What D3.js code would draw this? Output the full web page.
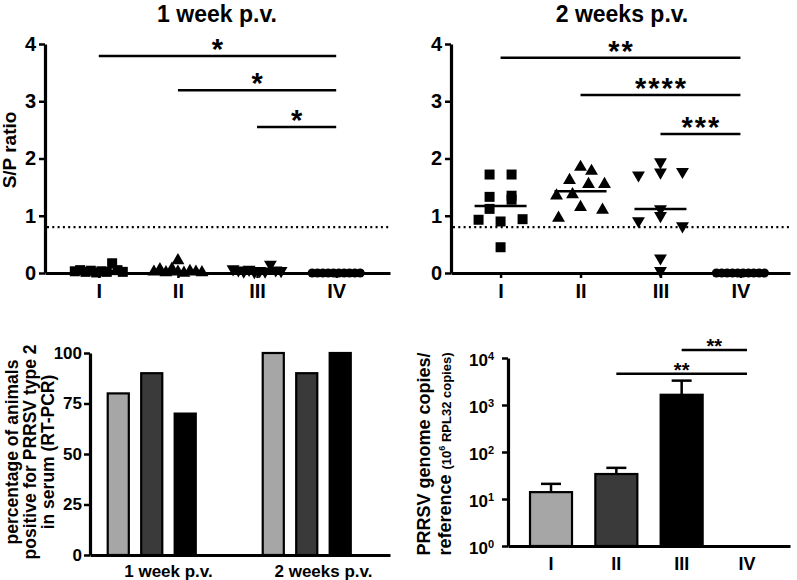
<!DOCTYPE html>
<html>
<head>
<meta charset="utf-8">
<script src="https://cdn.jsdelivr.net/npm/d3@7"></script>
<style>
  body { margin: 0; background: #fff; }
  svg text { font-family: "Liberation Sans", Arial, sans-serif; font-weight: bold; fill: #000; }
</style>
</head>
<body>
<div id="fig"></div>
<script>
// ---- data ----
var groups = ['I', 'II', 'III', 'IV'];
var spTicks = [0, 1, 2, 3, 4];
var cutoff = 0.8;

// S/P ratio, 1 week p.v.
var wk1I   = [0.03, 0.05, 0.02, 0.04, 0.01, 0.03, 0.02, 0.17, 0.05, 0.02];
var wk1II  = [0.02, 0.06, 0.01, 0.07, 0.02, 0.00, 0.03, 0.22, 0.02, 0.01];
var wk1III = [0.07, 0.05, 0.03, 0.06, 0.02, 0.04, 0.03, 0.15, 0.05, 0.04];
var wk1IV  = [0, 0, 0, 0, 0, 0, 0, 0, 0, 0];
var wk1Med = [0.03, 0.02, 0.04, 0];

// S/P ratio, 2 weeks p.v.
var wk2I   = [0.93, 0.90, 0.94, 1.72, 1.12, 1.28, 1.33, 1.35, 1.72, 0.45];
var wk2II  = [0.96, 1.15, 1.10, 1.35, 1.37, 1.55, 1.55, 1.62, 1.78, 1.85];
var wk2III = [0.91, 1.00, 0.82, 1.12, 1.71, 1.76, 1.77, 1.94, 0.26, 0.04];
var wk2IV  = [0, 0, 0, 0, 0, 0, 0, 0, 0, 0];
var wk2Med = [1.17, 1.43, 1.12, 0];

// significance brackets (from group -> IV)
var sig1From = ['I', 'II', 'III'];
var sig1Y    = [3.79, 3.19, 2.55];
var sig1Lab  = ['*', '*', '*'];
var sig2From = ['I', 'II', 'III'];
var sig2Y    = [3.76, 3.11, 2.43];
var sig2Lab  = ['**', '****', '***'];

// % positive by RT-PCR
var timepoints = ['1 week p.v.', '2 weeks p.v.'];
var pctI   = [80, 100];
var pctII  = [90, 90];
var pctIII = [70, 100];
var pctIV  = [0, 0];
var pctTicks = [0, 25, 50, 75, 100];

// genome copies
var copiesMean = [14, 34, 1650, 0];
var copiesUp   = [21, 46, 3300, 0];
var copyTicks  = [1, 10, 100, 1000, 10000];
var sig3From = ['II', 'III'];
var sig3Y    = [4600, 14800];
var sig3Lab  = ['**', '**'];

// ---- drawing ----
var W = 797, H = 580;
var svg = d3.select('#fig').append('svg').attr('width', W).attr('height', H);

var shapes = [d3.symbolSquare, d3.symbolTriangle, d3.symbolTriangle, d3.symbolCircle];
var sizes = [100, 72, 72, 66];
var barCols = ['#a6a6a6', '#3a3a3a', '#000000', '#ffffff'];

function styleAxis(g, w) {
  g.select('.domain').attr('stroke', '#000').attr('stroke-width', w || 3.2);
  g.selectAll('.tick line').attr('stroke', '#000').attr('stroke-width', 2.5);
  g.selectAll('.tick text').attr('fill', '#000');
}

// rows of near-equal values get spread sideways
function swarm(vals, thr, step, maxW) {
  var idx = d3.range(vals.length).sort(function(a, b) { return vals[a] - vals[b]; });
  var rows = [], cur = null;
  idx.forEach(function(i) {
    if (!cur || vals[i] - vals[cur[0]] > thr) { cur = [i]; rows.push(cur); }
    else cur.push(i);
  });
  var off = [];
  rows.forEach(function(r) {
    r.sort(function(a, b) { return a - b; });
    var n = r.length, s = n > 1 ? Math.min(step, maxW / (n - 1)) : 0;
    r.forEach(function(i, k) { off[i] = (k - (n - 1) / 2) * s; });
  });
  return off;
}

function scatterPanel(opt) {
  var x = d3.scalePoint().domain(groups).range([opt.x0, opt.x1]).padding(opt.pad);
  var y = d3.scaleLinear().domain([0, 4]).range([273, 44]);
  var g = svg.append('g');

  g.append('text').attr('x', opt.titleX).attr('y', 22)
    .attr('text-anchor', 'middle').style('font-size', '23px').text(opt.title);

  if (opt.ylab) {
    g.append('text').attr('transform', 'translate(16,' + 150 + ') rotate(-90)')
      .attr('text-anchor', 'middle').style('font-size', '19px').text(opt.ylab);
  }

  // cutoff
  g.append('line').attr('x1', opt.x0 + 2).attr('x2', opt.x1)
    .attr('y1', y(cutoff)).attr('y2', y(cutoff))
    .attr('stroke', '#000').attr('stroke-width', 2.2).attr('stroke-dasharray', '2,3.3');

  opt.series.forEach(function(vals, gi) {
    var off = swarm(vals, 0.2, 22, 48);
    g.selectAll(null).data(vals).enter().append('path')
      .attr('d', d3.symbol().type(shapes[gi]).size(sizes[gi]))
      .attr('transform', function(d, i) {
        return 'translate(' + (x(groups[gi]) + off[i]) + ',' + y(d) + ')' + (gi === 2 ? ' rotate(180)' : '');
      })
      .attr('fill', '#000');
    g.append('line')
      .attr('x1', x(groups[gi]) - 26).attr('x2', x(groups[gi]) + 26)
      .attr('y1', y(opt.med[gi])).attr('y2', y(opt.med[gi]))
      .attr('stroke', '#000').attr('stroke-width', 2.5);
  });

  var ya = g.append('g').attr('transform', 'translate(' + opt.x0 + ',0)')
    .call(d3.axisLeft(y).tickValues(spTicks).tickSize(6).tickSizeOuter(0).tickPadding(3).tickFormat(d3.format('d')));
  ya.selectAll('.tick text').style('font-size', '20px');
  styleAxis(ya);

  var xa = g.append('g').attr('transform', 'translate(0,' + y(0) + ')')
    .call(d3.axisBottom(x).tickSize(5).tickSizeOuter(0).tickPadding(6));
  xa.selectAll('.tick text').style('font-size', '20px');
  styleAxis(xa);

  opt.sigFrom.forEach(function(f, i) {
    var yy = y(opt.sigY[i]);
    g.append('line').attr('x1', x(f)).attr('x2', x('IV')).attr('y1', yy).attr('y2', yy)
      .attr('stroke', '#000').attr('stroke-width', 2.5);
    g.append('text').attr('x', (x(f) + x('IV')) / 2 + 1).attr('y', yy + 3)
      .attr('text-anchor', 'middle').style('font-size', '29px').style('letter-spacing', '2px')
      .text(opt.sigLab[i]);
  });
}

scatterPanel({
  x0: 45, x1: 390, pad: 0.68, title: '1 week p.v.', titleX: 217, ylab: 'S/P ratio',
  series: [wk1I, wk1II, wk1III, wk1IV], med: wk1Med,
  sigFrom: sig1From, sigY: sig1Y, sigLab: sig1Lab
});
scatterPanel({
  x0: 451, x1: 790, pad: 0.62, title: '2 weeks p.v.', titleX: 622, ylab: null,
  series: [wk2I, wk2II, wk2III, wk2IV], med: wk2Med,
  sigFrom: sig2From, sigY: sig2Y, sigLab: sig2Lab
});

// ---- % positive bars ----
(function() {
  var g = svg.append('g');
  var x0 = d3.scaleBand().domain(timepoints).range([90, 390])
    .paddingInner(0.216).paddingOuter(0.0757).align(0.755);
  var x1 = d3.scaleBand().domain(groups).range([0, x0.bandwidth()]).paddingInner(0.37).paddingOuter(0);
  var y = d3.scaleLinear().domain([0, 100]).range([555, 353]);
  var series = [pctI, pctII, pctIII, pctIV];

  timepoints.forEach(function(t, ti) {
    series.forEach(function(s, gi) {
      if (!s[ti]) return;
      g.append('rect')
        .attr('x', x0(t) + x1(groups[gi])).attr('width', x1.bandwidth())
        .attr('y', y(s[ti])).attr('height', y(0) - y(s[ti]))
        .attr('fill', barCols[gi]).attr('stroke', '#000').attr('stroke-width', 2.2);
    });
  });

  var ya = g.append('g').attr('transform', 'translate(90,0)')
    .call(d3.axisLeft(y).tickValues(pctTicks).tickSize(6).tickSizeOuter(0).tickPadding(2));
  ya.selectAll('.tick text').style('font-size', '17px');
  styleAxis(ya);
  var xa = g.append('g').attr('transform', 'translate(0,555)')
    .call(d3.axisBottom(x0).tickSize(0).tickPadding(10));
  xa.selectAll('.tick text').style('font-size', '17px');
  styleAxis(xa);

  var lab = ['percentage of animals', 'positive for PRRSV type 2', 'in serum (RT-PCR)'];
  var lx = [12, 30, 48];
  lab.forEach(function(l, i) {
    g.append('text').attr('transform', 'translate(' + lx[i] + ',452) rotate(-90)')
      .attr('text-anchor', 'middle').attr('dy', '0.35em').style('font-size', '17.5px').text(l);
  });
})();

// ---- genome copies (log) ----
(function() {
  var g = svg.append('g');
  var x = d3.scaleBand().domain(groups).range([508, 790]).paddingInner(0.357).paddingOuter(0.337);
  var y = d3.scaleLog().domain([1, 10000]).range([546, 358]);

  groups.forEach(function(k, gi) {
    var v = copiesMean[gi];
    if (!v) return;
    var cx = x(k) + x.bandwidth() / 2;
    g.append('line').attr('x1', cx).attr('x2', cx).attr('y1', y(v)).attr('y2', y(copiesUp[gi]))
      .attr('stroke', '#000').attr('stroke-width', 2.5);
    g.append('line').attr('x1', cx - 10).attr('x2', cx + 10).attr('y1', y(copiesUp[gi])).attr('y2', y(copiesUp[gi]))
      .attr('stroke', '#000').attr('stroke-width', 2.5);
    g.append('rect').attr('x', x(k)).attr('width', x.bandwidth())
      .attr('y', y(v)).attr('height', y(1) - y(v))
      .attr('fill', barCols[gi]).attr('stroke', '#000').attr('stroke-width', 2.2);
  });

  var ya = g.append('g').attr('transform', 'translate(508,0)')
    .call(d3.axisLeft(y).tickValues(copyTicks).tickSize(6).tickSizeOuter(0).tickPadding(8).tickFormat(''));
  styleAxis(ya);
  ya.selectAll('.tick').each(function(d) {
    var t = d3.select(this).select('text').style('font-size', '17px').attr('dy', '0.45em');
    t.append('tspan').text('10');
    t.append('tspan').attr('dy', '-0.6em').style('font-size', '11px').text(Math.round(Math.log10(d)));
  });

  var xa = g.append('g').attr('transform', 'translate(0,546)')
    .call(d3.axisBottom(x).tickSize(0).tickPadding(11));
  xa.selectAll('.tick text').style('font-size', '18px');
  styleAxis(xa);

  sig3From.forEach(function(f, i) {
    var yy = y(sig3Y[i]);
    var xa1 = x(f) + x.bandwidth() / 2, xb = x('IV') + x.bandwidth() / 2;
    g.append('line').attr('x1', xa1).attr('x2', xb).attr('y1', yy).attr('y2', yy)
      .attr('stroke', '#000').attr('stroke-width', 2.5);
    g.append('text').attr('x', (xa1 + xb) / 2).attr('y', yy + 3)
      .attr('text-anchor', 'middle').style('font-size', '20px').text(sig3Lab[i]);
  });

  g.append('text').attr('transform', 'translate(424,454) rotate(-90)')
    .attr('text-anchor', 'middle').attr('dy', '0.35em').style('font-size', '18px').text('PRRSV genome copies/');
  var t2 = g.append('text').attr('transform', 'translate(445,454) rotate(-90)')
    .attr('text-anchor', 'middle').attr('dy', '0.35em').style('font-size', '18px');
  t2.append('tspan').text('reference ');
  t2.append('tspan').style('font-size', '13px').text('(10');
  t2.append('tspan').style('font-size', '9px').attr('dy', '-0.7em').text('6');
  t2.append('tspan').style('font-size', '13px').attr('dy', '0.45em').text(' RPL32 copies)');
})();
</script>
</body>
</html>
